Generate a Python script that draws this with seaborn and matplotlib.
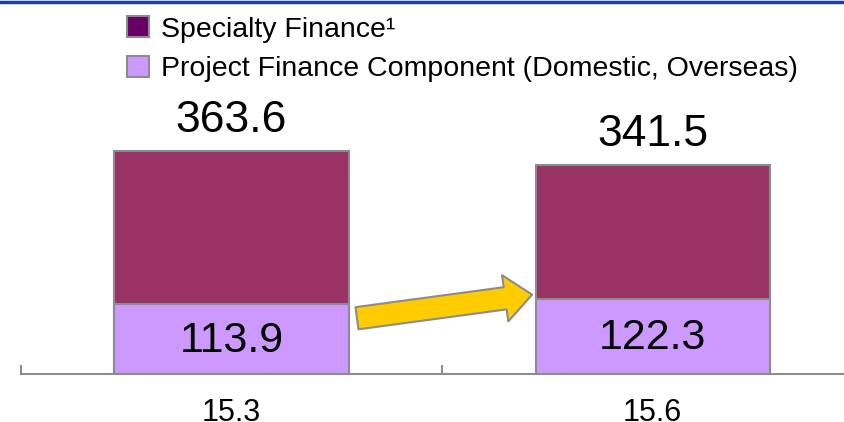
import matplotlib
matplotlib.use("Agg")
from matplotlib import pyplot as plt
from matplotlib.patches import Patch, FancyArrowPatch, ArrowStyle
from matplotlib.lines import Line2D
import seaborn as sns
import pandas as pd

# data
periods = ['15.3', '15.6']
totals = [363.6, 341.5]
project_finance = [113.9, 122.3]

legend_labels = ['Specialty Finance\u00b9',
                 'Project Finance Component (Domestic, Overseas)']

# colors
specialty_color = '#993366'
specialty_legend = '#660066'
project_color = '#CC99FF'
edge_gray = '#8C8C8C'
arrow_yellow = '#FFCC00'

sns.set_style('white')
plt.rcParams['font.family'] = ['Liberation Sans', 'DejaVu Sans']
plt.rcParams['text.color'] = 'black'
plt.rcParams['xtick.color'] = 'black'

df = pd.DataFrame({'period': periods,
                   'total': totals,
                   'project': project_finance})

fig = plt.figure(figsize=(8.45, 4.22), dpi=100)
ax = fig.add_axes([21 / 845, 48 / 422, 824 / 845, 374 / 422])

bar_w = 0.556
# full bar first (specialty on top), project finance part drawn over it
sns.barplot(data=df, x='period', y='total', color=specialty_color,
            width=bar_w, saturation=1, edgecolor=edge_gray, linewidth=1.5, ax=ax)
sns.barplot(data=df, x='period', y='project', color=project_color,
            width=bar_w, saturation=1, edgecolor=edge_gray, linewidth=1.5, ax=ax)

ax.set_xlim(-0.5, 1.457)
ax.set_ylim(0, 374 / 0.612)
ax.set_xlabel('')
ax.set_ylabel('')
ax.set_yticks([])

for s in ['left', 'right', 'top']:
    ax.spines[s].set_visible(False)
ax.spines['bottom'].set_color(edge_gray)
ax.spines['bottom'].set_linewidth(1.5)
ax.spines['bottom'].set_zorder(0)

ax.tick_params(axis='x', which='major', bottom=True, length=0, pad=17,
               labelsize=22, labelcolor='black')
ax.set_xticks([-0.5, 0.5], minor=True)
ax.tick_params(axis='x', which='minor', bottom=True, direction='in',
               length=6.5, width=1.5, color=edge_gray)

# value labels
for i, (tot, pf) in enumerate(zip(totals, project_finance)):
    ax.annotate(f'{tot:.1f}', xy=(i, tot), xytext=(0, 14),
                textcoords='offset points', ha='center', va='baseline',
                fontsize=32)
    ax.annotate(f'{pf:.1f}', xy=(i, pf / 2), xytext=(0, -1),
                textcoords='offset points', ha='center', va='center',
                fontsize=31)

# arrow between the two project finance segments
arrow = FancyArrowPatch((0 + bar_w / 2 + 0.02, project_finance[0] * 0.8),
                        (1 - bar_w / 2 - 0.008, project_finance[1] * 1.06),
                        arrowstyle=ArrowStyle('Simple', head_length=1.4,
                                              head_width=2.4, tail_width=1.15),
                        mutation_scale=14, shrinkA=0, shrinkB=0,
                        facecolor=arrow_yellow, edgecolor=edge_gray,
                        linewidth=1.5, zorder=5)
ax.add_patch(arrow)

# legend
handles = [Patch(facecolor=specialty_legend, edgecolor=edge_gray, linewidth=1.5),
           Patch(facecolor=project_color, edgecolor=edge_gray, linewidth=1.5)]
fig.legend(handles, legend_labels, loc='upper left',
           bbox_to_anchor=(127 / 845, 1 - 16 / 422), frameon=False,
           fontsize=20.5, handlelength=0.78, handleheight=0.78,
           handletextpad=0.42, labelspacing=0.46, borderpad=0,
           borderaxespad=0)

# blue rule at the top
fig.add_artist(Line2D([0, 1], [1 - 1.5 / 422, 1 - 1.5 / 422],
                      transform=fig.transFigure, color='#1F3D99', linewidth=2.5))

fig.savefig('out.png', dpi=100)
